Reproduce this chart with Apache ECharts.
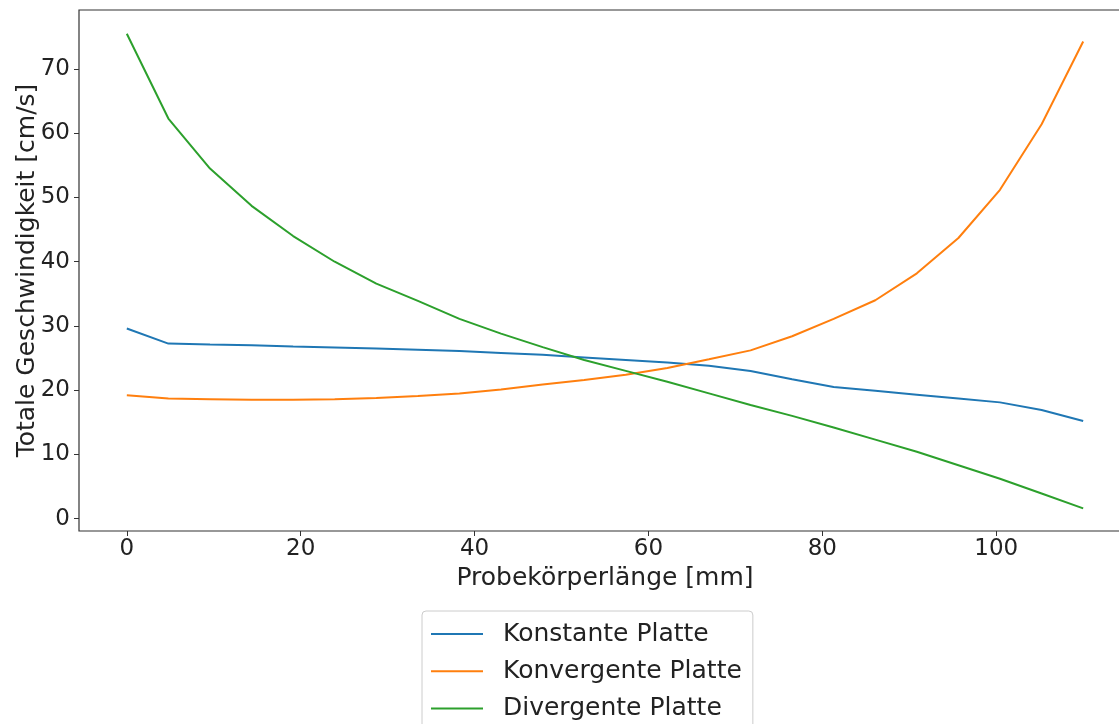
<!DOCTYPE html>
<html>
<head>
<meta charset="utf-8">
<script src="https://cdn.jsdelivr.net/npm/echarts@6/dist/echarts.min.js"></script>
<style>
html,body{margin:0;padding:0;background:#fff;}
#chart{width:1119px;height:724px;}
</style>
</head>
<body>
<div id="chart"></div>
<script>
// x positions (mm): 24 samples from 0 to 110
const xValues = [0, 4.78, 9.57, 14.35, 19.13, 23.91, 28.70, 33.48, 38.26, 43.04, 47.83, 52.61,
                 57.39, 62.17, 66.96, 71.74, 76.52, 81.30, 86.09, 90.87, 95.65, 100.43, 105.22, 110];
const konstante = [29.6, 27.25, 27.1, 27.0, 26.8, 26.65, 26.5, 26.3, 26.1, 25.8, 25.5, 25.1,
                   24.7, 24.3, 23.8, 23.0, 21.7, 20.5, 19.9, 19.3, 18.7, 18.1, 16.9, 15.2];
const konvergente = [19.2, 18.7, 18.6, 18.5, 18.5, 18.6, 18.8, 19.1, 19.5, 20.1, 20.9, 21.6,
                     22.4, 23.45, 24.8, 26.2, 28.4, 31.1, 34.0, 38.2, 43.7, 51.2, 61.4, 74.3];
const divergente = [75.5, 62.3, 54.5, 48.7, 44.0, 40.0, 36.6, 33.9, 31.1, 28.8, 26.7, 24.7,
                    23.0, 21.3, 19.5, 17.7, 16.0, 14.2, 12.3, 10.4, 8.3, 6.2, 3.9, 1.6];
const seriesNames = ['Konstante Platte', 'Konvergente Platte', 'Divergente Platte'];
const xTicks = [0, 20, 40, 60, 80, 100];
const yTicks = [0, 10, 20, 30, 40, 50, 60, 70];
const xLabel = 'Probekörperlänge [mm]';
const yLabel = 'Totale Geschwindigkeit [cm/s]';

const colors = ['#1f77b4', '#ff7f0e', '#2ca02c'];
const font = 'DejaVu Sans';
const textColor = '#222';
const fs = 25;
const tfs = 23;

function pairs(ys) { return xValues.map((x, i) => [x, ys[i]]); }

const chart = echarts.init(document.getElementById('chart'), null, {renderer: 'canvas'});
chart.setOption({
  animation: false,
  backgroundColor: '#fff',
  color: colors,
  textStyle: {fontFamily: font},
  grid: {
    left: 79, top: 10, right: -12, bottom: 193,
    outerBoundsMode: 'none', containLabel: false,
    show: true, borderColor: '#333', borderWidth: 1.2, backgroundColor: 'transparent'
  },
  xAxis: {
    type: 'value', min: -5.5, max: 115.5,
    name: xLabel, nameLocation: 'middle', nameGap: 35, nameMoveOverlap: false,
    nameTextStyle: {fontSize: fs, color: textColor, fontFamily: font},
    axisLine: {show: false, onZero: false},
    axisTick: {show: true, length: 5, lineStyle: {color: '#333'}, customValues: xTicks},
    axisLabel: {fontSize: tfs, color: textColor, fontFamily: font, margin: 7, customValues: xTicks},
    splitLine: {show: false}
  },
  yAxis: {
    type: 'value', min: -1.93, max: 79.2,
    name: yLabel, nameLocation: 'middle', nameGap: 39, nameMoveOverlap: false,
    nameTextStyle: {fontSize: fs, color: textColor, fontFamily: font},
    axisLine: {show: false, onZero: false},
    axisTick: {show: true, length: 5, lineStyle: {color: '#333'}, customValues: yTicks},
    axisLabel: {fontSize: tfs, color: textColor, fontFamily: font, margin: 9, customValues: yTicks},
    splitLine: {show: false}
  },
  legend: {
    orient: 'vertical', left: 422, top: 611, height: 140,
    data: seriesNames,
    icon: 'rect', itemWidth: 52, itemHeight: 2, itemGap: 9.2,
    padding: [9, 11, 9, 9],
    backgroundColor: 'rgba(255,255,255,0.8)',
    borderColor: '#ccc', borderWidth: 1, borderRadius: 4,
    textStyle: {fontSize: fs, color: textColor, fontFamily: font, lineHeight: 28, padding: [0, 0, 0, 15]}
  },
  series: [
    {name: seriesNames[0], type: 'line', data: pairs(konstante), symbol: 'none', lineStyle: {width: 2, color: colors[0]}, itemStyle: {color: colors[0]}},
    {name: seriesNames[1], type: 'line', data: pairs(konvergente), symbol: 'none', lineStyle: {width: 2, color: colors[1]}, itemStyle: {color: colors[1]}},
    {name: seriesNames[2], type: 'line', data: pairs(divergente), symbol: 'none', lineStyle: {width: 2, color: colors[2]}, itemStyle: {color: colors[2]}}
  ]
});
</script>
</body>
</html>
